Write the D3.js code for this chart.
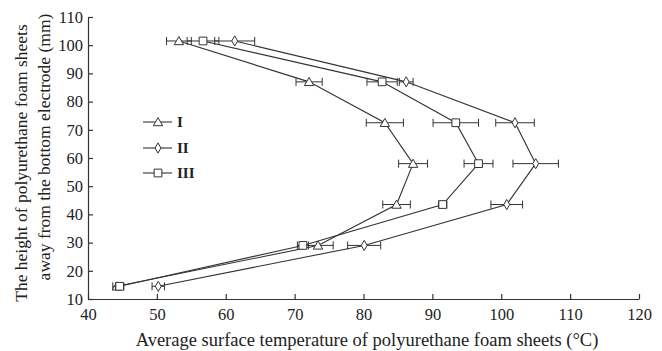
<!DOCTYPE html>
<html><head><meta charset="utf-8">
<script src="https://cdn.jsdelivr.net/npm/d3@7"></script>
<style>body{margin:0;background:#fff}svg{display:block}</style>
</head><body>
<script>
const heights = [101.5, 87, 72.5, 58, 43.5, 29, 14.5];
const seriesNames = ["I", "II", "III"];
const tempI   = [53.2, 72.1, 83.1, 87.2, 84.8, 73.4, 44.2];
const errI    = [1.8, 1.9, 2.7, 2.1, 2.0, 2.2, 0.6];
const tempII  = [61.3, 86.2, 102.0, 105.0, 100.8, 80.1, 50.2];
const errII   = [2.9, 1.0, 2.8, 3.3, 2.3, 2.4, 0.9];
const tempIII = [56.7, 82.7, 93.4, 96.7, 91.5, 71.2, 44.6];
const errIII  = [2.3, 2.2, 3.3, 2.1, 0.6, 0.8, 0.6];
const xTicks = [40, 50, 60, 70, 80, 90, 100, 110, 120];
const yTicks = [10, 20, 30, 40, 50, 60, 70, 80, 90, 100, 110];
const xTitle = "Average surface temperature of polyurethane foam sheets (\u00B0C)";
const yTitle1 = "The height of polyurethane foam sheets";
const yTitle2 = "away from the bottom electrode (mm)";

const W = 662, H = 351;
const svg = d3.select("body").append("svg").attr("width", W).attr("height", H);
const x = d3.scaleLinear().domain([40, 120]).range([88, 639]);
const y = d3.scaleLinear().domain([10, 110]).range([299, 17]);
const ink = "#333";
const font = "'Liberation Serif', 'DejaVu Serif', serif";

// axes
const xAxis = d3.axisBottom(x).tickValues(xTicks).tickSizeInner(-5).tickSizeOuter(0).tickPadding(9);
const gx = svg.append("g").attr("transform", `translate(0,${y(10)})`).call(xAxis);
const yAxis = d3.axisLeft(y).tickValues(yTicks).tickSizeInner(-5).tickSizeOuter(0).tickPadding(5);
const gy = svg.append("g").attr("transform", `translate(${x(40)},0)`).call(yAxis);
[gx, gy].forEach(g => {
  g.select(".domain").attr("stroke", ink).attr("stroke-width", 1.2);
  g.selectAll(".tick line").attr("stroke", ink).attr("stroke-width", 1.2);
  g.selectAll(".tick text").attr("font-family", font).attr("font-size", 16.5).attr("fill", "#222");
});

svg.append("text").attr("x", 367).attr("y", 346).attr("text-anchor", "middle")
  .attr("font-family", font).attr("font-size", 18.5).attr("fill", "#222").text(xTitle);
svg.append("text").attr("transform", "translate(27,163) rotate(-90)").attr("text-anchor", "middle")
  .attr("font-family", font).attr("font-size", 17.5).attr("fill", "#222").text(yTitle1);
svg.append("text").attr("transform", "translate(50,147) rotate(-90)").attr("text-anchor", "middle")
  .attr("font-family", font).attr("font-size", 17.5).attr("fill", "#222").text(yTitle2);

const symbols = [d3.symbolTriangle, d3.symbolDiamond, d3.symbolSquare];
const symSizes = [38, 30, 60];
const temps = [tempI, tempII, tempIII];
const errs = [errI, errII, errIII];

const line = d3.line().x(d => x(d[0])).y(d => y(d[1]));

temps.forEach((t, s) => {
  const pts = t.map((v, i) => [v, heights[i], errs[s][i]]);
  const g = svg.append("g");
  g.append("path").attr("d", line(pts)).attr("fill", "none").attr("stroke", ink).attr("stroke-width", 1.1);
  pts.forEach(p => {
    const cy = y(p[1]);
    g.append("line").attr("x1", x(p[0] - p[2])).attr("x2", x(p[0] + p[2])).attr("y1", cy).attr("y2", cy)
      .attr("stroke", ink).attr("stroke-width", 1);
    [p[0] - p[2], p[0] + p[2]].forEach(e => {
      g.append("line").attr("x1", x(e)).attr("x2", x(e)).attr("y1", cy - 4).attr("y2", cy + 4)
        .attr("stroke", ink).attr("stroke-width", 1);
    });
    g.append("path").attr("d", d3.symbol().type(symbols[s]).size(symSizes[s])())
      .attr("transform", `translate(${x(p[0])},${cy + (s === 0 ? 1 : 0)})`)
      .attr("fill", "#fff").attr("stroke", ink).attr("stroke-width", 1);
  });
});

// legend
const legY = [122, 148, 173];
seriesNames.forEach((n, s) => {
  const g = svg.append("g").attr("transform", `translate(0,${legY[s]})`);
  g.append("line").attr("x1", 143).attr("x2", 172).attr("stroke", ink).attr("stroke-width", 1.1);
  g.append("path").attr("d", d3.symbol().type(symbols[s]).size(symSizes[s])())
    .attr("transform", `translate(158,${s === 0 ? 1 : 0})`).attr("fill", "#fff").attr("stroke", ink);
  g.append("text").attr("x", 177).attr("y", 5).attr("font-family", font).attr("font-size", 15)
    .attr("font-weight", "bold").attr("fill", "#222").text(n);
});
</script>
</body></html>
